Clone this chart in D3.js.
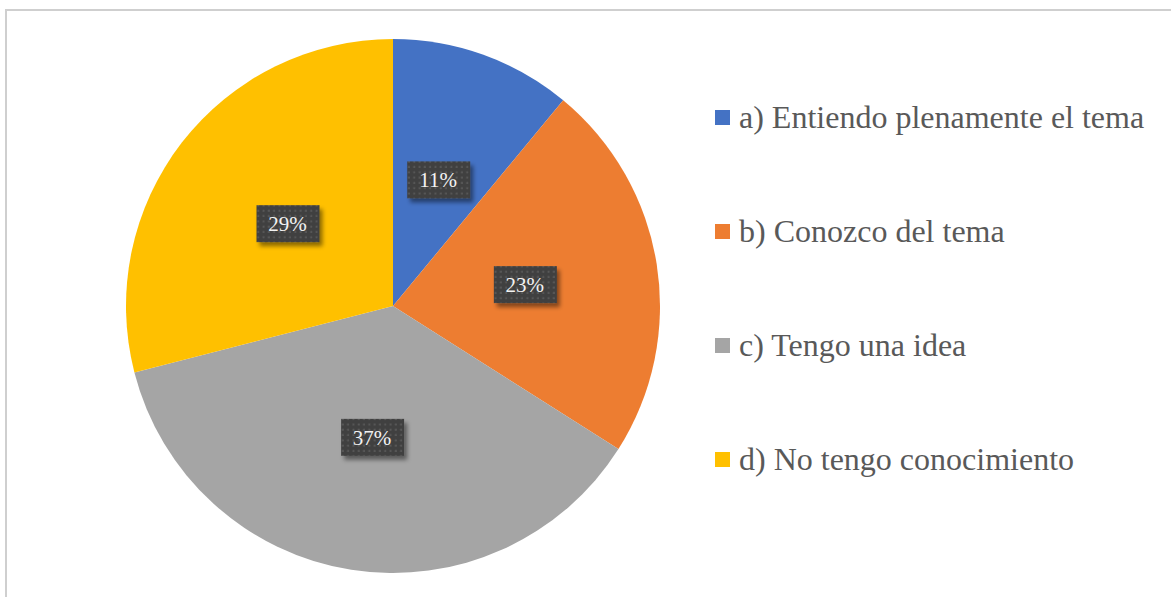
<!doctype html>
<html lang='en'>
<head>
    <meta charset='UTF-8'>
    <title>Pie</title>
    <style>
        body { margin: 0; background: #fff; }
        svg { display: block; }
    </style>
</head>
<body>
<script src='https://d3js.org/d3.v7.min.js'></script>
<script>
  const categories = ['a) Entiendo plenamente el tema', 'b) Conozco del tema', 'c) Tengo una idea', 'd) No tengo conocimiento']
  const values = [11, 23, 37, 29]
  const labels = ['11%', '23%', '37%', '29%']
  const colors = ['#4472C4', '#ED7D31', '#A5A5A5', '#FFC000']

  const w = 1171
  const h = 597
  const cx = 393
  const cy = 306
  const r = 267

  const svg = d3.select('body')
    .append('svg')
    .attr('width', w)
    .attr('height', h)

  const defs = svg.append('defs')

  // dotted fill for the label boxes
  const pat = defs.append('pattern')
    .attr('id', 'dots')
    .attr('width', 5.3)
    .attr('height', 5.3)
    .attr('patternUnits', 'userSpaceOnUse')
  pat.append('rect').attr('width', 5.3).attr('height', 5.3).attr('fill', '#404040')
  pat.append('rect').attr('x', 1.5).attr('y', 1.5).attr('width', 2).attr('height', 2).attr('fill', '#585858')

  const shadow = defs.append('filter')
    .attr('id', 'shadow')
    .attr('x', '-20%').attr('y', '-20%')
    .attr('width', '150%').attr('height', '160%')
  shadow.append('feDropShadow')
    .attr('dx', 3).attr('dy', 4)
    .attr('stdDeviation', 2.2)
    .attr('flood-color', '#000')
    .attr('flood-opacity', 0.45)

  // chart frame
  svg.append('rect')
    .attr('x', 6)
    .attr('y', 10)
    .attr('width', w + 20)
    .attr('height', h + 20)
    .attr('fill', 'none')
    .attr('stroke', '#cfcfcf')
    .attr('stroke-width', 2)

  const pie = d3.pie().sort(null).value(d => d)
  const arcs = pie(values)

  const arc = d3.arc().innerRadius(0).outerRadius(r)
  const labelArc = d3.arc().innerRadius(r / 2).outerRadius(r / 2)

  const g = svg.append('g').attr('transform', `translate(${cx},${cy})`)

  g.selectAll('path')
    .data(arcs)
    .enter()
    .append('path')
    .attr('d', arc)
    .attr('fill', (d, i) => colors[i])

  const lab = g.selectAll('g.lab')
    .data(arcs)
    .enter()
    .append('g')
    .attr('class', 'lab')
    .attr('transform', d => `translate(${labelArc.centroid(d)})`)

  lab.append('rect')
    .attr('x', -31)
    .attr('y', -19)
    .attr('width', 63)
    .attr('height', 37)
    .attr('fill', 'url(#dots)')
    .attr('filter', 'url(#shadow)')

  lab.append('text')
    .text((d, i) => labels[i])
    .attr('text-anchor', 'middle')
    .attr('y', 7)
    .attr('font-family', '"Liberation Serif", "Times New Roman", serif')
    .attr('font-size', '21px')
    .attr('fill', '#f2f2f2')

  /******************** legend ******************/

  const legend = svg.selectAll('g.legend')
    .data(categories)
    .enter()
    .append('g')
    .attr('class', 'legend')
    .attr('transform', (d, i) => `translate(715,${118 + i * 114})`)

  legend.append('rect')
    .attr('x', 0)
    .attr('y', -8)
    .attr('width', 15)
    .attr('height', 15)
    .attr('fill', (d, i) => colors[i])

  legend.append('text')
    .text(d => d)
    .attr('x', 24)
    .attr('y', 10)
    .attr('font-family', '"Liberation Serif", "Times New Roman", serif')
    .attr('font-size', '32px')
    .attr('fill', '#595959')
</script>
</body>
</html>
